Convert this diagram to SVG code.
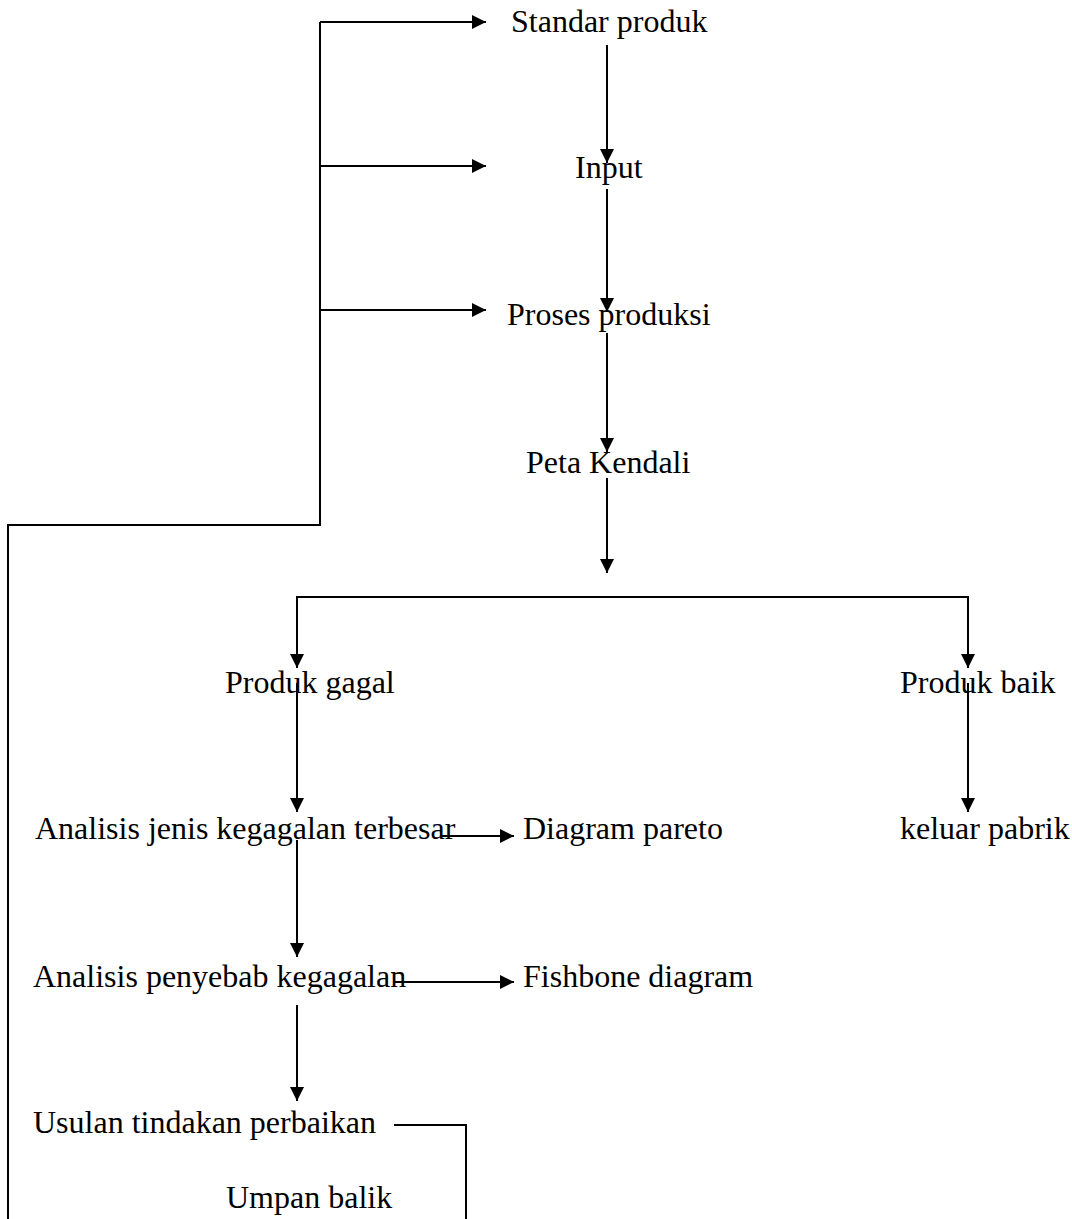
<svg xmlns="http://www.w3.org/2000/svg" width="1072" height="1219" viewBox="0 0 1072 1219">
<style>
text{font-family:"Liberation Serif","Times New Roman",serif;font-size:32px;fill:#000}
.c{fill:none;stroke:#000;stroke-width:2}
</style>
<defs>
<marker id="ah" viewBox="0 0 14 14" refX="14" refY="7" markerWidth="14" markerHeight="14" markerUnits="userSpaceOnUse" orient="auto">
<path d="M0,0 L14,7 L0,14 Z" fill="#000"/>
</marker>
</defs>
<rect width="1072" height="1219" fill="#fff"/>
<g id="connectors">
<path class="c" d="M320,22 H486" marker-end="url(#ah)"/>
<path class="c" d="M320,166 H486" marker-end="url(#ah)"/>
<path class="c" d="M320,310 H486" marker-end="url(#ah)"/>
<path class="c" d="M320,22 V525 H8 V1219"/>
<path class="c" d="M607,45 V163" marker-end="url(#ah)"/>
<path class="c" d="M607,189 V312" marker-end="url(#ah)"/>
<path class="c" d="M607,333 V452" marker-end="url(#ah)"/>
<path class="c" d="M607,478 V573" marker-end="url(#ah)"/>
<path class="c" d="M297,668 V597 H968 V668" />
<path class="c" d="M297,600 V668" marker-end="url(#ah)"/>
<path class="c" d="M968,600 V668" marker-end="url(#ah)"/>
<path class="c" d="M297,683 V812" marker-end="url(#ah)"/>
<path class="c" d="M968,683 V812" marker-end="url(#ah)"/>
<path class="c" d="M441,836 H514" marker-end="url(#ah)"/>
<path class="c" d="M297,840 V957" marker-end="url(#ah)"/>
<path class="c" d="M395,982 H514" marker-end="url(#ah)"/>
<path class="c" d="M297,1005 V1101" marker-end="url(#ah)"/>
<path class="c" d="M394,1125 H466 V1219"/>
</g>
<g id="standar"><text x="511" y="32">Standar produk</text></g>
<g id="input"><text x="575" y="178">Input</text></g>
<g id="proses"><text x="507" y="325">Proses produksi</text></g>
<g id="peta"><text x="526" y="473">Peta Kendali</text></g>
<g id="gagal"><text x="225" y="693">Produk gagal</text></g>
<g id="baik"><text x="900" y="693">Produk baik</text></g>
<g id="analisis-jenis"><text x="35" y="839">Analisis jenis kegagalan terbesar</text></g>
<g id="pareto"><text x="523" y="839">Diagram pareto</text></g>
<g id="keluar"><text x="900" y="839">keluar pabrik</text></g>
<g id="analisis-penyebab"><text x="33" y="987">Analisis penyebab kegagalan</text></g>
<g id="fishbone"><text x="523" y="987">Fishbone diagram</text></g>
<g id="usulan"><text x="33" y="1133">Usulan tindakan perbaikan</text></g>
<g id="umpan"><text x="226" y="1208">Umpan balik</text></g>
</svg>
